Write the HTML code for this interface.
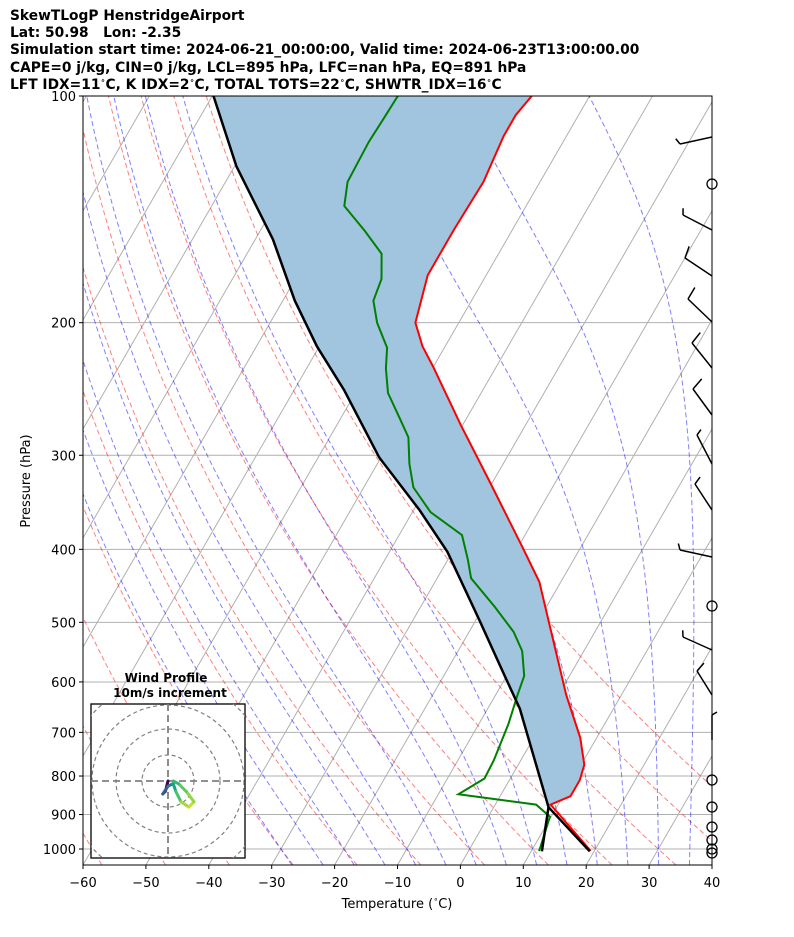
<!DOCTYPE html>
<html><head><meta charset="utf-8"><style>
body{margin:0;background:#fff;font-family:"DejaVu Sans","Liberation Sans",sans-serif}
#t{position:absolute;left:10px;top:8px;font-weight:bold;font-size:13.8px;line-height:17.2px;color:#000;white-space:nowrap}
.dg{font-size:8px;position:relative;top:-6px;line-height:0}
</style></head><body>
<div id="t">SkewTLogP HenstridgeAirport<br>Lat: 50.98&nbsp;&nbsp; Lon: -2.35<br>Simulation start time: 2024-06-21_00:00:00, Valid time: 2024-06-23T13:00:00.00<br>CAPE=0 j/kg, CIN=0 j/kg, LCL=895 hPa, LFC=nan hPa, EQ=891 hPa<br>LFT IDX=11<span class="dg">∘</span>C, K IDX=2<span class="dg">∘</span>C, TOTAL TOTS=22<span class="dg">∘</span>C, SHWTR_IDX=16<span class="dg">∘</span>C</div>
<svg id="s" width="794" height="937" style="position:absolute;left:0;top:0" xmlns="http://www.w3.org/2000/svg"></svg>
<script>
// ---- data ----
const tempP=[1006,1000,873,851,810,773,712,624,494,442,398,327,273,229,215,200,173,150,130,113,106,100];
const tempT=[19.4,19.0,8.8,11.2,11.2,10.5,7.4,1.2,-8.7,-13.4,-19.2,-30.2,-40.4,-50.0,-53.6,-56.9,-59.3,-59.3,-59.0,-60.0,-60.0,-59.2];
const dewP=[1006,996,906,873,846,806,762,682,625,589,546,515,477,437,413,383,357,331,308,284,268,248,230,216,200,187,175,162,151,140,130,115,108,100];
const dewT=[11.2,11.1,9.8,6.5,-6.8,-4.1,-4.3,-5.3,-6.5,-7.2,-9.8,-12.9,-18.2,-24.6,-26.8,-30.0,-37.1,-42.1,-44.9,-47.5,-50.6,-54.8,-57.4,-59.1,-63.0,-65.6,-66.3,-68.6,-73.4,-78.9,-80.6,-80.9,-80.7,-80.5];
const parcelP=[1007,880,651,590,497,403,355,302,246,215,187,155,124,100];
const parcelT=[19.3,8.7,-4.9,-10.2,-19.4,-30.8,-39.0,-50.3,-62.0,-70.4,-78.1,-87.2,-99.7,-109.8];
const lclDewP=[880,1007];
const lclDewT=[8.7,11.7];
const xTicks=[-60,-50,-40,-30,-20,-10,0,10,20,30,40];
const pTicks=[100,200,300,400,500,600,700,800,900,1000];
const barbY=[137,230,276,322,368,415,464,510,557,650,695,740];
const calmY=[184,606,780,807,827,840,849,853];
const hodoU=[0,-1,-2,0,2,3,5,8,10,7,4,2];
const hodoV=[0,-4,-5,-2,-1,-4,-8,-10,-8,-4,-1,0];
// ---- axes ----
const L=83,R=712,T0=96,B=865;
const Y=p=>96+Math.log10(p/100)*753;
const X=(t,p)=>L+(t+60)*6.29+(B-Y(p))*0.577;
const s=document.getElementById('s');
const NS='http://www.w3.org/2000/svg';
function mk(tag,at,parent){const e=document.createElementNS(NS,tag);for(const k in at)e.setAttribute(k,at[k]);(parent||s).appendChild(e);return e;}
mk('defs',{}).innerHTML='<clipPath id="c"><rect x="83" y="96" width="629" height="769"/></clipPath><clipPath id="h"><rect x="91" y="704" width="154" height="154"/></clipPath>';
const g=mk('g',{'clip-path':'url(#c)'});


function path(ps,ts,at,parent){let d='';for(let i=0;i<ps.length;i++)d+=(i?'L':'M')+X(ts[i],ps[i]).toFixed(1)+','+Y(ps[i]).toFixed(1);return mk('path',Object.assign({d:d,fill:'none'},at),parent||g);}
pTicks.forEach(p=>{const l=mk('line',{x1:L,x2:R,y1:Y(p),y2:Y(p),stroke:'#b0b0b0','stroke-width':1},g);

});
for(let t=-140;t<=40;t+=10){const l=path([1050,100],[t,t],{stroke:'#b0b0b0','stroke-width':1});

}
const ps=[];for(let p=1050;p>=100;p-=10)ps.push(p);
for(let t0=-60;t0<=50;t0+=10){const th=t0+273.15;const ts=ps.map(p=>th*Math.pow(p/1000,0.2857)-273.15);
const l=path(ps,ts,{stroke:'#ff0000','stroke-opacity':0.5,'stroke-dasharray':'5,3','stroke-width':1});

}
function es(T){return 6.112*Math.exp(17.67*(T-273.15)/(T-29.65));}
function moist(t0){let T=t0+273.15;const out=[];
function f(p,T){const rs=0.622*es(T)/(p-es(T));return (287*T+2.5e6*rs)/(1005+2.5e6*2.5e6*rs*0.622/(287*T*T))/p;}
let Tb=T;for(let q=1000;q<1050;q+=5){Tb+=f(q,Tb)*5;}
T=Tb;for(let p=1050;p>=100;p-=5){out.push([p,T-273.15]);T-=f(p,T)*5;}return out;}
for(let t0=-30;t0<=40;t0+=5){const o=moist(t0);const l=path(o.map(a=>a[0]),o.map(a=>a[1]),{stroke:'#0000ff','stroke-opacity':0.5,'stroke-dasharray':'5,3','stroke-width':1});

}
function interp(P,Tv,p){for(let i=0;i<P.length-1;i++){if((P[i]-p)*(P[i+1]-p)<=0){const f=Math.log(p/P[i])/Math.log(P[i+1]/P[i]);return Tv[i]+f*(Tv[i+1]-Tv[i]);}}return Tv[Tv.length-1];}
const lclP=parcelP[1];
let d='';const fp=[lclP].concat(tempP.filter(p=>p<lclP));
fp.forEach((p,i)=>{d+=(i?'L':'M')+X(interp(tempP,tempT,p),p).toFixed(1)+','+Y(p).toFixed(1);});
for(let i=parcelP.length-1;i>=1;i--)d+='L'+X(parcelT[i],parcelP[i]).toFixed(1)+','+Y(parcelP[i]).toFixed(1);
const fa=mk('path',{d:d+'Z',fill:'#a1c5de',stroke:'none'},g);


const tl=path(tempP,tempT,{stroke:'#ff0000','stroke-width':2});


const dl=path(dewP,dewT,{stroke:'#008000','stroke-width':2});


const pl=path(parcelP,parcelT,{stroke:'#000','stroke-width':2.5,'stroke-linejoin':'round'});


const ml=path(lclDewP,lclDewT,{stroke:'#000','stroke-width':2.5});


const fr=mk('rect',{x:L,y:T0,width:R-L,height:B-T0,fill:'none',stroke:'#000','stroke-width':1});


xTicks.forEach(t=>{const x=L+(t+60)*6.29;mk('line',{x1:x,x2:x,y1:B,y2:B+4,stroke:'#000'});
const tx=mk('text',{x:x,y:B+22,'text-anchor':'middle','font-size':13,fill:'#000'});tx.textContent=(t<0?'\u2212'+(-t):t);

});
pTicks.forEach(p=>{const y=Y(p);mk('line',{x1:L-4,x2:L,y1:y,y2:y,stroke:'#000'});
const tx=mk('text',{x:L-7,y:y+5,'text-anchor':'end','font-size':13,fill:'#000'});tx.textContent=p;

});
const xt=mk('text',{x:397,y:908,'text-anchor':'middle','font-size':13});xt.innerHTML='Temperature (<tspan font-size="8" dy="-6">∘</tspan><tspan dy="6">C)</tspan>';


const yt=mk('text',{x:30,y:481,'text-anchor':'middle','font-size':13,transform:'rotate(-90 30 481)'});yt.textContent='Pressure (hPa)';


const bs=[[-32,7,6],[-29,-15,6],[-27,-18,12],[-24,-23,13],[-20,-25,13],[-19,-26,13],[-15,-29,6],[-17,-26,8],[-32,-7,6],[-29,-13,6],[-15,-24,10],[0,-25,5]];
barbY.forEach((y,i)=>{const b=bs[i];const x2=R+b[0],y2=y+b[1];
const gg=mk('g',{stroke:'#000','stroke-width':1.5,fill:'none'});


mk('line',{x1:R,y1:y,x2:x2,y2:y2},gg);
const len=Math.hypot(b[0],b[1]),ux=b[0]/len,uy=b[1]/len;const bl=b[2];
let px=-uy,py=ux;if(py>0){px=-px;py=-py;}
mk('line',{x1:x2,y1:y2,x2:x2+px*bl+ux*3,y2:y2+py*bl+uy*3},gg);});
calmY.forEach(y=>{const c=mk('circle',{cx:R,cy:y,r:5,fill:'none',stroke:'#000','stroke-width':1.3});

});
const hg=mk('g',{});


mk('rect',{x:91,y:704,width:154,height:154,fill:'#fff',stroke:'#000','stroke-width':1.3},hg);
const hc=mk('g',{'clip-path':'url(#h)'},hg);
[26,52,76,101].forEach(r=>mk('circle',{cx:168,cy:781,r:r,fill:'none',stroke:'#808080','stroke-dasharray':'4,3','stroke-width':1.2},hc));
mk('line',{x1:91,x2:245,y1:781,y2:781,stroke:'#808080','stroke-dasharray':'7,4','stroke-width':1.8},hc);
mk('line',{x1:168,x2:168,y1:704,y2:858,stroke:'#808080','stroke-dasharray':'7,4','stroke-width':1.8},hc);
const cols=['#440154','#46327e','#365c8d','#277f8e','#1fa187','#4ac16d','#a0da39','#c8e020','#90d743','#5ec962','#35b779'];
for(let i=0;i<hodoU.length-1;i++){mk('line',{x1:168+hodoU[i]*2.6,y1:781-hodoV[i]*2.6,x2:168+hodoU[i+1]*2.6,y2:781-hodoV[i+1]*2.6,stroke:cols[i],'stroke-width':3,'stroke-linecap':'round'},hc);}
const h1=mk('text',{x:166,y:682,'text-anchor':'middle','font-size':12,'font-weight':'bold'},hg);h1.textContent='Wind Profile';
const h2=mk('text',{x:170,y:697,'text-anchor':'middle','font-size':12,'font-weight':'bold'},hg);h2.textContent='10m/s increment';
</script>
</body></html>
